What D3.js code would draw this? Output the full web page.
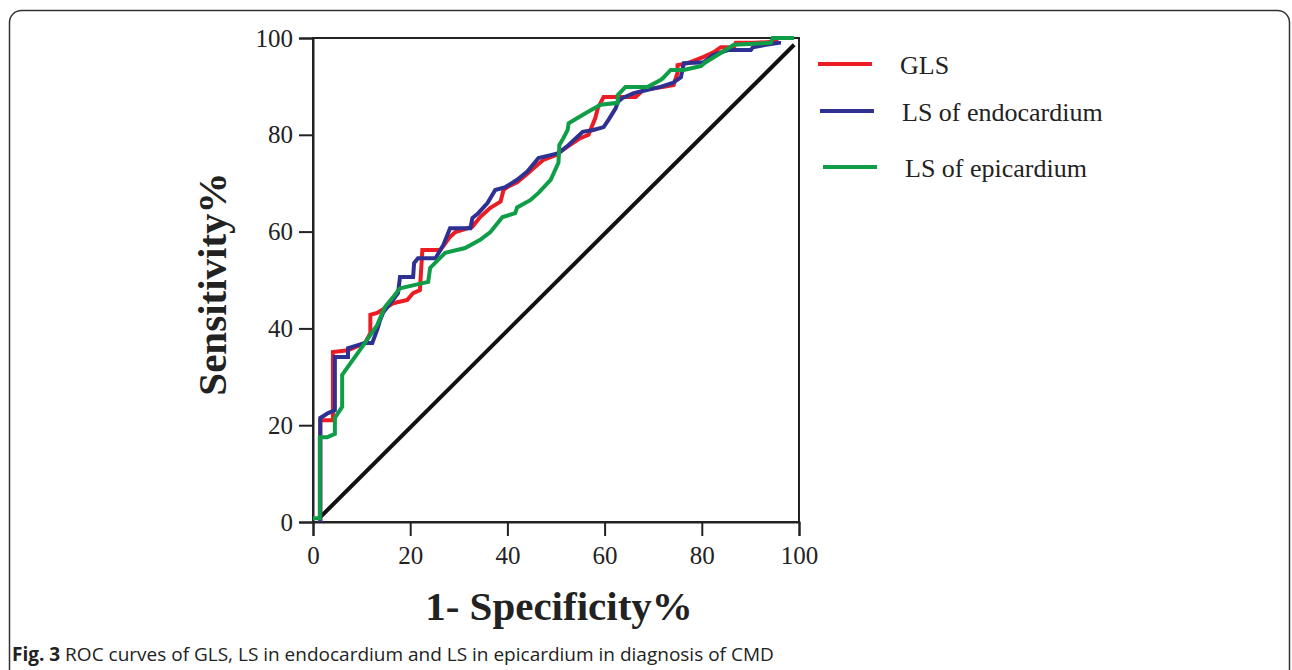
<!DOCTYPE html>
<html>
<head>
<meta charset="utf-8">
<script src="https://cdn.jsdelivr.net/npm/d3@7"></script>
<style>
  body { margin: 0; background: #fff; }
  svg { display: block; }
</style>
</head>
<body>
<div id="chart"></div>
<script>
// ROC points, [1 - specificity, sensitivity] in %
var glsPoints = [
  [1.5, 0], [1.5, 21], [4.1, 21], [4.1, 35.1], [7.2, 35.5], [10.7, 37], [11.8, 39],
  [11.8, 42.8], [13.2, 43.2], [16.5, 45.2], [19.4, 45.9], [20.6, 47.3], [22, 47.9],
  [22.5, 56.2], [26.2, 56.2], [28.2, 58.9], [29.3, 59.9], [32.8, 61], [34.4, 63],
  [36.5, 64.9], [38.6, 66.2], [39.2, 68.6], [40, 69.2], [42, 70.2], [44.3, 72.1],
  [46.2, 73.8], [47.4, 74.8], [49.9, 75.8], [52, 77.3], [55, 79.3], [56.7, 80],
  [58.1, 83.5], [58.6, 85.5], [59.8, 87.8], [62.3, 87.8], [66.4, 87.8], [68, 89.3],
  [72.2, 89.9], [74.2, 90.3], [75, 92.8], [75, 94.4], [77.1, 94.8], [80.4, 96.1],
  [82.5, 97.1], [83.9, 98.1], [86.6, 98.1], [87, 99], [90.7, 99], [94.8, 99.2], [95.7, 99.6]
]

var endoPoints = [
  [1.5, 0], [1.5, 21.5], [3.1, 22.5], [4.5, 23.1], [4.5, 34.1], [7.2, 34.1], [7.2, 35.9],
  [10.7, 37], [12.2, 37], [13.2, 39.7], [13.8, 41.7], [14.4, 43.2], [15.9, 45.2],
  [16.9, 46.5], [17.5, 47.3], [17.9, 50.6], [20.6, 50.6], [20.8, 53.5], [21.6, 54.5],
  [25.2, 54.5], [26.8, 57.2], [28.2, 60.7], [32.4, 60.7], [32.8, 62.8], [34, 63.8],
  [35.9, 65.9], [37.5, 68.6], [39.6, 69.2], [42, 70.7], [44.1, 72.4], [46.4, 75.2],
  [48.9, 75.8], [50.5, 76.2], [52.6, 77.9], [55.5, 80.6], [57.7, 81], [59.8, 81.6],
  [60.8, 83.1], [62.3, 85.5], [62.7, 86.8], [63.7, 87.6], [66, 88.6], [68.9, 89.3],
  [71.5, 89.9], [74, 90.7], [75.7, 91.9], [76.3, 94.8], [80.4, 95], [82.3, 96.5],
  [85.4, 97.5], [90.1, 97.5], [90.5, 98.1], [93.2, 98.6], [95.9, 99], [95.9, 99.4]
]

var epiPoints = [
  [0, 0.8], [1.4, 0.8], [1.4, 17.5], [2.9, 17.5], [4.5, 18.2], [4.5, 21.5], [6, 23.8],
  [6, 30.4], [10.7, 37], [13.2, 40.7], [14.8, 44.4], [16.5, 46.5], [17.9, 48.3],
  [21, 49], [23.7, 49.6], [24.1, 52.5], [27.2, 55.6], [31.3, 56.6], [34.4, 58.3],
  [36.5, 59.9], [39, 63], [41.6, 63.8], [42, 65], [44.7, 66.5], [46.4, 68],
  [48.9, 70.7], [50.5, 74.2], [50.7, 77.9], [51.3, 78.9], [52.4, 81], [52.6, 82.4],
  [56.5, 84.7], [59.2, 86.2], [62.7, 86.6], [62.7, 88.2], [64.3, 89.9], [68.9, 89.9],
  [71.5, 91.3], [72, 91.7], [73.6, 93.4], [76.3, 93.4], [79.8, 94.2], [80.8, 95],
  [83.9, 96.9], [86.6, 98.6], [94.2, 99], [94.6, 100], [99, 100]
]

var refLine = [[1.5, 1], [99, 98.6]]

var seriesNames = ['GLS', 'LS of endocardium', 'LS of epicardium']
var seriesColors = ['#ec1c24', '#2e3192', '#0f9d48']
var tickValues = [0, 20, 40, 60, 80, 100]

var width = 1292
var height = 670

var svg = d3
  .select('#chart')
  .append('svg')
  .attr('width', width)
  .attr('height', height)

// rounded figure frame, runs off the bottom of the page
svg
  .append('rect')
  .attr('x', 9.5)
  .attr('y', 10.5)
  .attr('width', 1280)
  .attr('height', 700)
  .attr('rx', 12)
  .attr('fill', 'none')
  .attr('stroke', '#333')
  .attr('stroke-width', 1.5)

var xScale = d3.scaleLinear().domain([0, 100]).range([313, 799])
var yScale = d3.scaleLinear().domain([0, 100]).range([522, 38])

var serif = "'Liberation Serif', 'Times New Roman', serif"

// plot box
svg
  .append('rect')
  .attr('x', xScale(0))
  .attr('y', yScale(100))
  .attr('width', xScale(100) - xScale(0))
  .attr('height', yScale(0) - yScale(100))
  .attr('fill', 'none')
  .attr('stroke', '#222')
  .attr('stroke-width', 2)

svg
  .append('g')
  .attr('transform', 'translate(0,' + yScale(0) + ')')
  .call(
    d3
      .axisBottom(xScale)
      .tickValues(tickValues)
      .tickSize(14)
      .tickPadding(10)
  )

svg
  .append('g')
  .attr('transform', 'translate(' + xScale(0) + ',0)')
  .call(
    d3
      .axisLeft(yScale)
      .tickValues(tickValues)
      .tickSize(14)
      .tickPadding(6)
  )

svg.selectAll('.domain').attr('stroke', '#222').attr('stroke-width', 2)
svg.selectAll('.tick line').attr('stroke', '#222').attr('stroke-width', 2)
svg
  .selectAll('.tick text')
  .attr('font-family', serif)
  .attr('font-size', 25)
  .attr('fill', '#222')

var line = d3
  .line()
  .x(d => xScale(d[0]))
  .y(d => yScale(d[1]))

svg
  .append('path')
  .datum(refLine)
  .attr('d', line)
  .attr('fill', 'none')
  .attr('stroke', '#111')
  .attr('stroke-width', 4)

var allSeries = [glsPoints, endoPoints, epiPoints]

svg
  .selectAll('.roc')
  .data(allSeries)
  .enter()
  .append('path')
  .attr('class', 'roc')
  .attr('d', line)
  .attr('fill', 'none')
  .attr('stroke', (d, i) => seriesColors[i])
  .attr('stroke-width', 4)
  .attr('stroke-linejoin', 'miter')

// legend
var legendY = [64, 111, 167]
var legendX = [818, 820, 823]

var legend = svg
  .selectAll('.legend')
  .data(seriesNames)
  .enter()
  .append('g')
  .attr('class', 'legend')

legend
  .append('line')
  .attr('x1', (d, i) => legendX[i])
  .attr('x2', (d, i) => legendX[i] + 54)
  .attr('y1', (d, i) => legendY[i])
  .attr('y2', (d, i) => legendY[i])
  .attr('stroke', (d, i) => seriesColors[i])
  .attr('stroke-width', 4)

legend
  .append('text')
  .attr('x', (d, i) => legendX[i] + 82)
  .attr('y', (d, i) => legendY[i] + 10)
  .attr('font-family', serif)
  .attr('font-size', 26)
  .attr('fill', '#222')
  .text(d => d)

// axis titles
svg
  .append('text')
  .attr('transform', 'translate(226,284) rotate(-90)')
  .attr('text-anchor', 'middle')
  .attr('font-family', serif)
  .attr('font-weight', 700)
  .attr('font-size', 41)
  .attr('fill', '#222')
  .text('Sensitivity%')

svg
  .append('text')
  .attr('x', 559)
  .attr('y', 620)
  .attr('text-anchor', 'middle')
  .attr('font-family', serif)
  .attr('font-weight', 700)
  .attr('font-size', 41)
  .attr('fill', '#222')
  .text('1- Specificity%')

// caption
var caption = svg
  .append('text')
  .attr('x', 12)
  .attr('y', 661)
  .attr('font-family', "'Open Sans', 'Noto Sans', sans-serif")
  .attr('font-size', 19)
  .attr('fill', '#222')

caption.append('tspan').attr('font-weight', 700).text('Fig. 3')
caption
  .append('tspan')
  .text(' ROC curves of GLS, LS in endocardium and LS in epicardium in diagnosis of CMD')
</script>
</body>
</html>
